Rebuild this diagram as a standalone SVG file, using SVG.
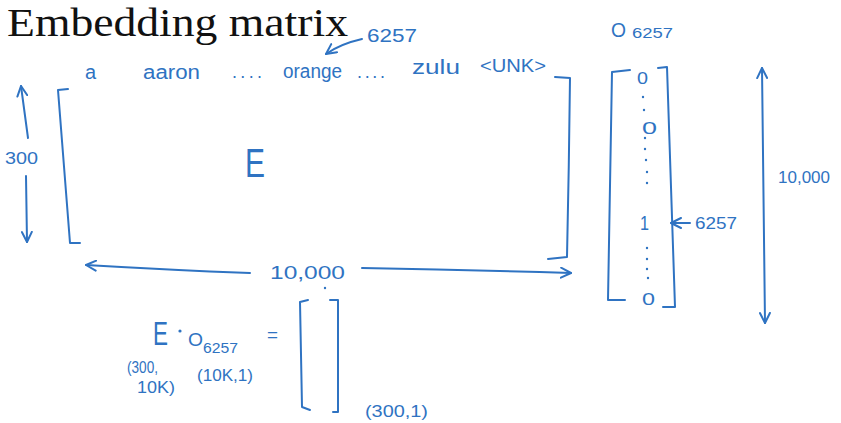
<svg xmlns="http://www.w3.org/2000/svg" width="841" height="423" viewBox="0 0 841 423">
<style>
.ink{fill:none;stroke:#2f73c2;stroke-width:2;stroke-linecap:round;stroke-linejoin:round}
.hw{fill:#2f73c2;font-family:"Liberation Sans","DejaVu Sans",sans-serif}
.dot{fill:#2f73c2}
.title{fill:#111;font-family:"Liberation Serif","DejaVu Serif",serif}
</style>
<defs>
<marker id="ah" viewBox="0 0 12 12" refX="11" refY="6" markerWidth="12" markerHeight="12" markerUnits="userSpaceOnUse" orient="auto-start-reverse">
<path d="M1,1 L11,6 L1,11" fill="none" stroke="#2f73c2" stroke-width="2" stroke-linecap="round" stroke-linejoin="round"/>
</marker>
</defs>
<rect width="841" height="423" fill="#fff"/>
<text class="title" x="7" y="36" font-size="40" textLength="341" lengthAdjust="spacingAndGlyphs">Embedding matrix</text>

<g id="embedding-matrix">
<path class="ink" d="M68,89 L58,90 Q64,165 70,243 L80,243"/>
<path class="ink" d="M555,77 L570,78 Q569,168 567,257 L548,259"/>
<text class="hw" x="85" y="79" font-size="20">a</text>
<text class="hw" x="143" y="79" font-size="20" textLength="57" lengthAdjust="spacingAndGlyphs">aaron</text>
<text class="hw" x="232" y="78" font-size="18" textLength="30" lengthAdjust="spacing">....</text>
<text class="hw" x="283" y="78" font-size="20" textLength="59" lengthAdjust="spacingAndGlyphs">orange</text>
<text class="hw" x="357" y="78" font-size="18" textLength="28" lengthAdjust="spacing">....</text>
<text class="hw" x="412" y="74" font-size="20" textLength="48" lengthAdjust="spacingAndGlyphs">zulu</text>
<text class="hw" x="480" y="72" font-size="18" textLength="66" lengthAdjust="spacingAndGlyphs">&lt;UNK&gt;</text>
<text class="hw" x="245" y="177" font-size="40" textLength="20" lengthAdjust="spacingAndGlyphs">E</text>
<text class="hw" x="367" y="42" font-size="19" textLength="50" lengthAdjust="spacingAndGlyphs">6257</text>
<text class="hw" x="5" y="164" font-size="17" textLength="33" lengthAdjust="spacingAndGlyphs">300</text>
</g>

<g id="onehot-vector">
<text class="hw" x="611" y="37" font-size="20" textLength="15" lengthAdjust="spacingAndGlyphs">O</text>
<text class="hw" x="632" y="38" font-size="14" textLength="41" lengthAdjust="spacingAndGlyphs">6257</text>
<path class="ink" d="M630,70 L612,72 Q610,185 608,300 L625,300"/>
<path class="ink" d="M658,68 L667,67 Q671,187 675,307 L663,307"/>
<text class="hw" x="637" y="84" font-size="16" textLength="11" lengthAdjust="spacingAndGlyphs">0</text>
<text class="hw" x="642" y="134" font-size="17" textLength="15" lengthAdjust="spacingAndGlyphs">0</text>
<text class="hw" x="640" y="230" font-size="20" textLength="9" lengthAdjust="spacingAndGlyphs">1</text>
<text class="hw" x="642" y="305" font-size="16" textLength="13" lengthAdjust="spacingAndGlyphs">0</text>
<circle class="dot" cx="643" cy="97" r="1.2"/>
<circle class="dot" cx="644" cy="110" r="1.2"/>
<circle class="dot" cx="645" cy="138" r="1.2"/>
<circle class="dot" cx="645" cy="149" r="1.2"/>
<circle class="dot" cx="646" cy="160" r="1.2"/>
<circle class="dot" cx="647" cy="172" r="1.2"/>
<circle class="dot" cx="647" cy="183" r="1.2"/>
<circle class="dot" cx="647" cy="248" r="1.2"/>
<circle class="dot" cx="647" cy="259" r="1.2"/>
<circle class="dot" cx="647" cy="269" r="1.2"/>
<circle class="dot" cx="648" cy="278" r="1.2"/>
<text class="hw" x="695" y="229" font-size="17" textLength="42" lengthAdjust="spacingAndGlyphs">6257</text>
<text class="hw" x="778" y="183" font-size="16" textLength="52" lengthAdjust="spacingAndGlyphs">10,000</text>
</g>

<g id="product">
<text class="hw" x="153" y="345" font-size="34" textLength="15" lengthAdjust="spacingAndGlyphs">E</text>
<circle class="dot" cx="180" cy="331" r="1.6"/>
<text class="hw" x="188" y="346" font-size="19" textLength="15" lengthAdjust="spacingAndGlyphs">O</text>
<text class="hw" x="203" y="353" font-size="14" textLength="35" lengthAdjust="spacingAndGlyphs">6257</text>
<text class="hw" x="267" y="341" font-size="18" textLength="11" lengthAdjust="spacingAndGlyphs">=</text>
<text class="hw" x="127" y="373" font-size="17" textLength="31" lengthAdjust="spacingAndGlyphs">(300,</text>
<text class="hw" x="137" y="393" font-size="17" textLength="38" lengthAdjust="spacingAndGlyphs">10K)</text>
<text class="hw" x="197" y="381" font-size="17" textLength="56" lengthAdjust="spacingAndGlyphs">(10K,1)</text>
<path class="ink" d="M308,300 L300,302 Q301,355 302,407 L310,410"/>
<path class="ink" d="M330,300 L338,300 Q338,356 338,412 L333,412"/>
<text class="hw" x="365" y="417" font-size="16" textLength="63" lengthAdjust="spacingAndGlyphs">(300,1)</text>
<circle class="dot" cx="325" cy="288" r="1.2"/>
</g>

<g id="connectors">
<path class="ink" d="M362,39 Q340,44 326,54" marker-end="url(#ah)"/>
<path class="ink" d="M28,138 L21,86" marker-end="url(#ah)"/>
<path class="ink" d="M26,176 L27,242" marker-end="url(#ah)"/>
<path class="ink" d="M250,273 Q170,270 86,265" marker-end="url(#ah)"/>
<text class="hw" x="270" y="279" font-size="18" textLength="75" lengthAdjust="spacingAndGlyphs">10,000</text>
<path class="ink" d="M362,268 Q470,270 571,273" marker-end="url(#ah)"/>
<path class="ink" d="M762,68 Q764,200 765,323" marker-start="url(#ah)" marker-end="url(#ah)"/>
<path class="ink" d="M690,223 L671,223" marker-end="url(#ah)"/>
</g>
</svg>
